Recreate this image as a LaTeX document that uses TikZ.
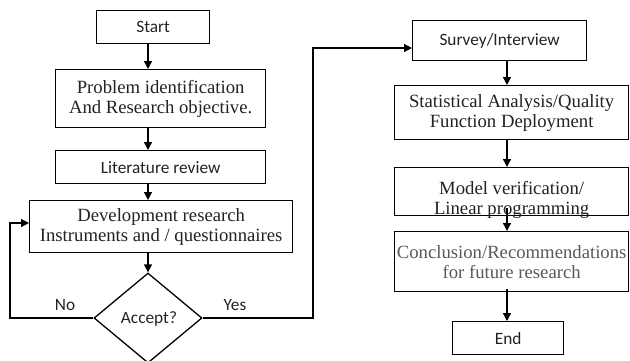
\documentclass[tikz,border=0pt]{standalone}
\usepackage{fontspec}
\setmainfont{Liberation Serif}
\newfontfamily\calib{Carlito}
\usetikzlibrary{arrows.meta,shapes.geometric,calc}
\definecolor{concl}{HTML}{595959}
\definecolor{txt}{HTML}{222222}
\tikzset{
  box/.style={draw, line width=1.3pt, inner sep=0pt, align=center, anchor=north west, text=txt},
  serif/.style={font=\fontsize{18.7}{20}\selectfont},
  sans/.style={font=\calib\fontsize{17.3}{19}\selectfont, text=txt},
  arr/.style={line width=1.3pt, -{Triangle[length=8pt,width=8pt]}},
}
\begin{document}
\begin{tikzpicture}[x=1pt,y=-1pt]
\useasboundingbox (0,0) rectangle (630,360);
\coordinate (lsp) at (148,0);
\coordinate (rsp) at (507,0);
% left column
\node[box, sans, minimum width=113pt, minimum height=33pt] (start) at (96,10) {Start};
\node[box, serif, minimum width=210pt, minimum height=58pt] (prob) at (55,69) {Problem identification\\And Research objective.};
\node[box, sans, minimum width=210pt, minimum height=33pt] (lit) at (55,150) {Literature review};
\node[box, serif, minimum width=263pt, minimum height=52pt] (dev) at (29,200) {Development research\\Instruments and / questionnaires};
\node[draw, line width=1.3pt, diamond, aspect=1.2, inner sep=0pt, minimum width=108pt, minimum height=90pt] (dec) at (148,318) {};
\node[sans] (acc) at (149,319) {Accept?};
\node[sans] (no) at (65,305) {No};
\node[sans] (yes) at (235,305) {Yes};
% right column
\node[box, sans, minimum width=174pt, minimum height=40pt] (surv) at (412,20) {Survey/Interview};
\node[box, serif, minimum width=234pt, minimum height=54pt] (stat) at (394,85) {Statistical Analysis/Quality\\Function Deployment};
\node[box, serif, minimum width=234pt, minimum height=48pt, text depth=0pt] (model) at (394,167) {\raisebox{-2pt}{\parbox{230pt}{\centering Model verification/\\Linear programming}}};
\node[box, serif, text=concl, minimum width=234pt, minimum height=60pt] (conc) at (394,231) {\raisebox{3pt}{\parbox{230pt}{\centering Conclusion/Recommendations\\for future research}}};
\node[box, sans, minimum width=111pt, minimum height=33pt] (end) at (452,321) {End};
% connectors
\draw[arr] (start.south -| lsp) -- (prob.north -| lsp);
\draw[arr] (prob.south -| lsp) -- (lit.north -| lsp);
\draw[arr] (lit.south -| lsp) -- (dev.north -| lsp);
\draw[arr] (dev.south -| lsp) -- (dec.north);
\coordinate (noc) at (10,223);
\draw[arr] (dec.west) -| (noc) -- (noc -| dev.west);
\coordinate (yesc) at (313,48);
\draw[arr] (dec.east) -| (yesc) -- (yesc -| surv.west);
\draw[arr] (surv.south -| rsp) -- (stat.north -| rsp);
\draw[arr] (stat.south -| rsp) -- (model.north -| rsp);
\draw[arr] ($(model.south -| rsp)+(0,-8)$) -- (conc.north -| rsp);
\draw[arr] ($(conc.south -| rsp)+(0,-3)$) -- (end.north -| rsp);
\end{tikzpicture}
\end{document}
